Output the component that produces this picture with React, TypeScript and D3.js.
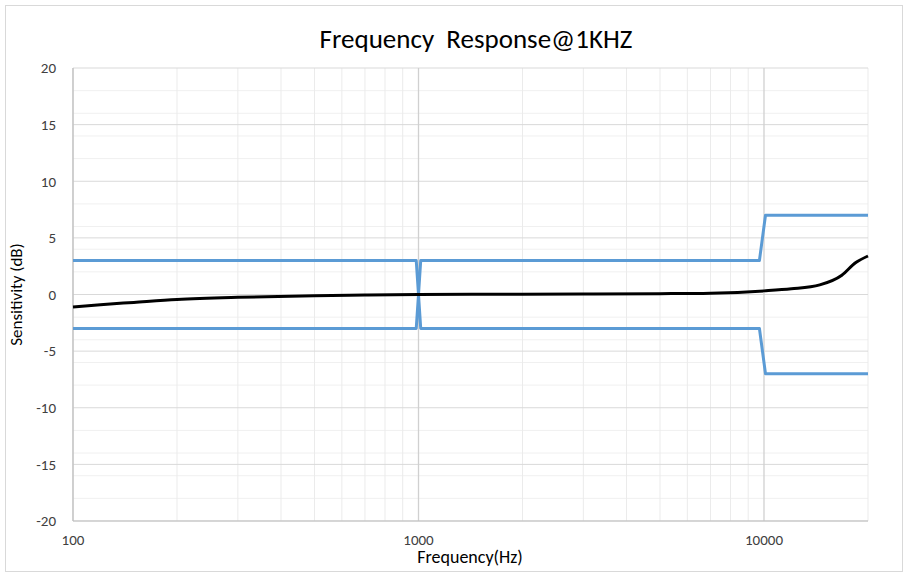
import React from 'react';
import * as d3 from 'd3';

// measured curve (Hz, dB)
const respFreq = [100, 120, 150, 200, 300, 500, 700, 1000, 2000, 3000, 5000, 7000, 10000, 12000, 14500, 16800, 18400, 20000];
const respDb = [-1.1, -0.9, -0.7, -0.45, -0.25, -0.1, -0.05, 0, 0.02, 0.04, 0.07, 0.12, 0.32, 0.5, 0.85, 1.7, 2.8, 3.4];

// tolerance limits
const upperFreq = [100, 985, 1000, 1015, 9700, 10100, 20000];
const upperDb = [3, 3, 0, 3, 3, 7, 7];
const lowerFreq = [100, 985, 1000, 1015, 9700, 10100, 20000];
const lowerDb = [-3, -3, 0, -3, -3, -7, -7];

const yTicks = [20, 15, 10, 5, 0, -5, -10, -15, -20];
const xTicks = [100, 1000, 10000];

const App = () => {
  const svgWidth = 905;
  const svgHeight = 575;
  const margin = { left: 73, right: 37, top: 68, bottom: 54 };
  const width = svgWidth - margin.left - margin.right;
  const height = svgHeight - margin.top - margin.bottom;

  const x = d3.scaleLog().domain([100, 20000]).range([0, width]);
  const y = d3.scaleLinear().domain([-20, 20]).range([height, 0]);

  const line = d3.line<[number, number]>()
    .x(d => x(d[0]))
    .y(d => y(d[1]))
    .curve(d3.curveMonotoneX);
  const straight = d3.line<[number, number]>()
    .x(d => x(d[0]))
    .y(d => y(d[1]));

  const minorX: number[] = [];
  for (let dec = 100; dec < 20000; dec *= 10) {
    for (let k = 2; k <= 9; k++) if (dec * k <= 20000) minorX.push(dec * k);
  }
  const minorY = d3.range(-18, 20, 2).filter(v => v % 5 !== 0);

  const font = "Calibri, Lato, sans-serif";
  const textColor = '#404040';

  return (
    <div>
      <style>{`body{margin:0}`}</style>
      <svg width={svgWidth} height={svgHeight} style={{ display: 'block' }}>
        <rect x={5.5} y={5.5} width={897} height={566} fill="#fff" stroke="#d9d9d9" />
        <text x={476} y={48} textAnchor="middle" fontFamily={font} fontSize={27} fill="#000" xmlSpace="preserve">Frequency  Response@1KHZ</text>

        <g transform={`translate(${margin.left},${margin.top})`}>
          {minorY.map(v => <line key={'my' + v} x1={0} x2={width} y1={y(v)} y2={y(v)} stroke="#f0f0f0" strokeWidth={1} />)}
          {minorX.map(v => <line key={'mx' + v} x1={x(v)} x2={x(v)} y1={0} y2={height} stroke="#ebebeb" strokeWidth={1} />)}
          {yTicks.map(v => <line key={'gy' + v} x1={0} x2={width} y1={y(v)} y2={y(v)} stroke="#d9d9d9" strokeWidth={1} />)}
          {xTicks.map(v => <line key={'gx' + v} x1={x(v)} x2={x(v)} y1={0} y2={height} stroke="#d0d0d0" strokeWidth={1.3} />)}
          <line x1={0} x2={0} y1={0} y2={height} stroke="#bfbfbf" />
          <line x1={0} x2={width} y1={height} y2={height} stroke="#bfbfbf" />

          <path d={straight(upperFreq.map((f, i) => [f, upperDb[i]]) as [number, number][]) || ''} fill="none" stroke="#5b9bd5" strokeWidth={3} strokeLinejoin="round" />
          <path d={straight(lowerFreq.map((f, i) => [f, lowerDb[i]]) as [number, number][]) || ''} fill="none" stroke="#5b9bd5" strokeWidth={3} strokeLinejoin="round" />
          <path d={line(respFreq.map((f, i) => [f, respDb[i]]) as [number, number][]) || ''} fill="none" stroke="#000" strokeWidth={3} strokeLinejoin="round" />

          <g fontFamily={font} fontSize={15} fill={textColor} textAnchor="end">
            {yTicks.map(v => <text key={'ty' + v} x={-17} y={y(v)} dy="0.35em">{v}</text>)}
          </g>
          <g fontFamily={font} fontSize={15} fill={textColor} textAnchor="middle">
            {xTicks.map(v => <text key={'tx' + v} x={x(v)} y={height + 24}>{v}</text>)}
          </g>
          <text x={397} y={height + 42} textAnchor="middle" fontFamily={font} fontSize={18} fill="#000">Frequency(Hz)</text>
          <text transform={`translate(${-51},${height / 2}) rotate(-90)`} textAnchor="middle" fontFamily={font} fontSize={17} fill="#000">Sensitivity (dB)</text>
        </g>
      </svg>
    </div>
  );
};

export default App;
